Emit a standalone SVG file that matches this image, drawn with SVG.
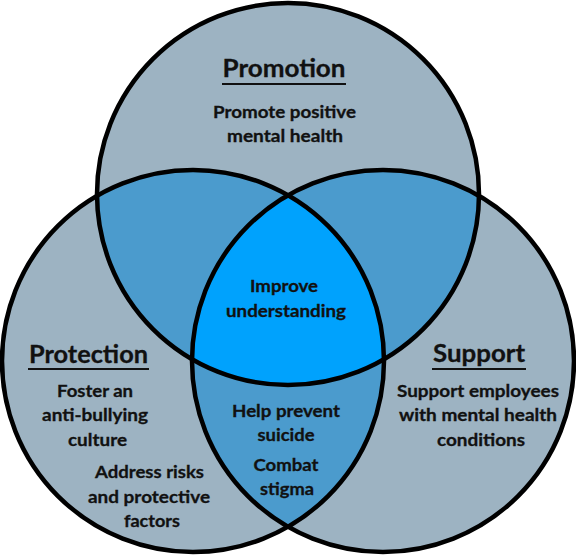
<svg xmlns="http://www.w3.org/2000/svg" width="576" height="555" viewBox="0 0 576 555">
<style>
.outer{fill:#9db3c2}
.pair{fill:#4b9bcd}
.mid{fill:#00a2fd}
.ring{fill:none;stroke:#000;stroke-width:4.5}
text{font-family:Lato,"Liberation Sans",sans-serif;font-weight:bold;fill:#111;stroke:#111;stroke-width:0.3;text-anchor:middle}
.h{font-size:24px}
.b{font-size:17px}
.u{stroke:#111;stroke-width:2}
</style>
<defs>
<clipPath id="cT"><circle cx="288" cy="194" r="191"/></clipPath>
<clipPath id="cL"><circle cx="193" cy="361" r="191"/></clipPath>
<clipPath id="cR"><circle cx="383" cy="361" r="191"/></clipPath>
</defs>
<rect width="576" height="555" fill="#fff"/>
<g id="fills">
<circle class="outer" cx="288" cy="194" r="191"/>
<circle class="outer" cx="193" cy="361" r="191"/>
<circle class="outer" cx="383" cy="361" r="191"/>
<circle class="pair" cx="193" cy="361" r="191" clip-path="url(#cT)"/>
<circle class="pair" cx="383" cy="361" r="191" clip-path="url(#cT)"/>
<circle class="pair" cx="383" cy="361" r="191" clip-path="url(#cL)"/>
<g clip-path="url(#cT)"><circle class="mid" cx="383" cy="361" r="191" clip-path="url(#cL)"/></g>
</g>
<g id="promotion">
<circle class="ring" cx="288" cy="194" r="191"/>
<text class="h" x="284" y="77" textLength="123" lengthAdjust="spacingAndGlyphs">Promotion</text>
<line class="u" x1="222" y1="84" x2="346" y2="84"/>
<text class="b" x="284.5" y="118" textLength="143" lengthAdjust="spacingAndGlyphs">Promote positive</text>
<text class="b" x="285" y="142" textLength="116" lengthAdjust="spacingAndGlyphs">mental health</text>
</g>
<g id="protection">
<circle class="ring" cx="193" cy="361" r="191"/>
<text class="h" x="88.5" y="363" textLength="119" lengthAdjust="spacingAndGlyphs">Protection</text>
<line class="u" x1="28" y1="369" x2="149" y2="369"/>
<text class="b" x="95" y="397" textLength="76" lengthAdjust="spacingAndGlyphs">Foster an</text>
<text class="b" x="95" y="421" textLength="106" lengthAdjust="spacingAndGlyphs">anti-bullying</text>
<text class="b" x="97.5" y="446" textLength="59" lengthAdjust="spacingAndGlyphs">culture</text>
<text class="b" x="149.5" y="478" textLength="109" lengthAdjust="spacingAndGlyphs">Address risks</text>
<text class="b" x="149" y="503" textLength="122" lengthAdjust="spacingAndGlyphs">and protective</text>
<text class="b" x="152" y="527" textLength="56" lengthAdjust="spacingAndGlyphs">factors</text>
</g>
<g id="support">
<circle class="ring" cx="383" cy="361" r="191"/>
<text class="h" x="479" y="362" textLength="92" lengthAdjust="spacingAndGlyphs">Support</text>
<line class="u" x1="432" y1="369" x2="526" y2="369"/>
<text class="b" x="478" y="397" textLength="162" lengthAdjust="spacingAndGlyphs">Support employees</text>
<text class="b" x="478" y="421" textLength="158" lengthAdjust="spacingAndGlyphs">with mental health</text>
<text class="b" x="481" y="446" textLength="88" lengthAdjust="spacingAndGlyphs">conditions</text>
</g>
<g id="center">
<text class="b" x="284" y="292" textLength="68" lengthAdjust="spacingAndGlyphs">Improve</text>
<text class="b" x="286" y="317" textLength="120" lengthAdjust="spacingAndGlyphs">understanding</text>
</g>
<g id="lower">
<text class="b" x="286" y="417" textLength="108" lengthAdjust="spacingAndGlyphs">Help prevent</text>
<text class="b" x="286" y="441" textLength="57" lengthAdjust="spacingAndGlyphs">suicide</text>
<text class="b" x="286" y="471" textLength="65" lengthAdjust="spacingAndGlyphs">Combat</text>
<text class="b" x="287" y="495" textLength="54" lengthAdjust="spacingAndGlyphs">stigma</text>
</g>
</svg>
